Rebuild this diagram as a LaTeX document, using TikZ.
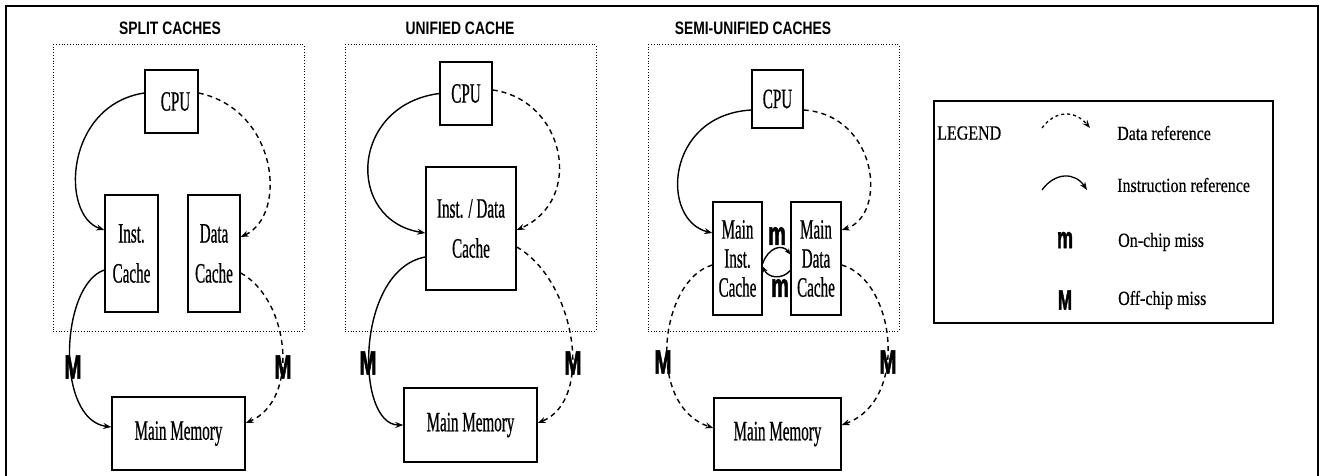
\documentclass[tikz,border=0pt]{standalone}
\usepackage{fontspec}
\usetikzlibrary{arrows.meta}
\setmainfont{Liberation Serif}
\newfontfamily\boxfont[FakeStretch=0.54,FakeBold=0.6]{Liberation Serif}
\newfontfamily\legfont[FakeStretch=0.8,FakeBold=0.4]{Liberation Serif}
\newfontfamily\titlefont[FakeStretch=0.77]{Liberation Sans}
\newfontfamily\missfont[FakeStretch=0.6,FakeBold=1.5]{Liberation Sans}
\tikzset{
  blk/.style={draw, line width=1.4pt, inner sep=0pt, align=center,
    font=\boxfont\fontsize{28}{40}\selectfont},
  blk3/.style={blk, font=\boxfont\fontsize{28}{29}\selectfont},
  region/.style={draw, line width=1pt, dash pattern=on 1pt off 1.8pt, inner sep=0pt},
  ttl/.style={font=\titlefont\bfseries\fontsize{18}{20}\selectfont, inner sep=0pt},
  bigM/.style={font=\missfont\bfseries\fontsize{34}{36}\selectfont, inner sep=0pt},
  smallm/.style={font=\missfont\bfseries\fontsize{33}{36}\selectfont, inner sep=0pt},
  ins/.style={line width=1.4pt, -{Stealth[length=8pt,width=6pt]}},
  dat/.style={line width=1.4pt, dash pattern=on 5pt off 4pt, -{Stealth[length=8pt,width=6pt]}},
  legtext/.style={font=\legfont\fontsize{20}{22}\selectfont, inner sep=0pt, anchor=west},
}
\begin{document}
\begin{tikzpicture}[x=1pt,y=-1pt]
\useasboundingbox (0,0) rectangle (1327,476);
% outer frame
\draw[line width=1.4pt] (6,476) -- (6,6) -- (1318,6) -- (1318,476);

% ---------------- SPLIT CACHES ----------------
\node[ttl] (t1) at (170,28) {SPLIT CACHES};
\node[region, minimum width=251pt, minimum height=286pt] (r1) at (178.5,188) {};
\node[blk, minimum width=53pt, minimum height=63pt] (cpu1) at (171.5,101.5) {\hspace*{8pt}CPU};
\node[blk, minimum width=53pt, minimum height=117pt] (inst1) at (131.5,253.5) {Inst.\\Cache};
\node[blk, minimum width=52pt, minimum height=117pt] (data1) at (214,253.5) {Data\\Cache};
\node[blk, minimum width=133pt, minimum height=73pt] (mm1) at (178.5,433.5) {Main Memory};
\draw[ins] ([yshift=8.5pt]cpu1.west) .. controls (65,105) and (60,215) .. ([yshift=23.5pt]inst1.west);
\draw[dat] ([yshift=8.5pt]cpu1.east) .. controls (278,110) and (288,215) .. ([yshift=16.5pt]data1.east);
\draw[ins] ([yshift=-16.5pt]inst1.west) .. controls (60,285) and (55,420) .. ([yshift=6.5pt]mm1.west);
\draw[dat] ([yshift=-19.5pt]data1.east) .. controls (290,300) and (300,400) .. ([yshift=10.5pt]mm1.east);
\node[bigM] (m1a) at (73,367) {M};
\node[bigM] (m1b) at (283,367) {M};

% ---------------- UNIFIED CACHE ----------------
\node[ttl] (t2) at (460,28) {UNIFIED CACHE};
\node[region, minimum width=251pt, minimum height=286pt] (r2) at (470.5,188) {};
\node[blk, minimum width=52pt, minimum height=63pt] (cpu2) at (466,93.5) {CPU};
\node[blk, minimum width=90pt, minimum height=123pt] (idc2) at (471,228.5) {Inst. / Data\\Cache};
\node[blk, minimum width=133pt, minimum height=74pt] (mm2) at (470.5,425) {Main Memory};
\draw[ins] (cpu2.west) .. controls (350,105) and (345,220) .. ([yshift=-4.5pt]idc2.west);
\draw[dat] ([yshift=3.5pt]cpu2.east) .. controls (565,100) and (585,200) .. ([yshift=-1.5pt]idc2.east);
\draw[ins] ([yshift=-28.5pt]idc2.west) .. controls (355,270) and (355,425) .. (mm2.west);
\draw[dat] ([yshift=-18.5pt]idc2.east) .. controls (575,280) and (595,400) .. ([yshift=2pt]mm2.east);
\node[bigM] (m2a) at (368,363) {M};
\node[bigM] (m2b) at (573,363) {M};

% ---------------- SEMI-UNIFIED CACHES ----------------
\node[ttl] (t3) at (753,28) {SEMI-UNIFIED CACHES};
\node[region, minimum width=251pt, minimum height=286pt] (r3) at (773.5,188) {};
\node[blk, minimum width=51pt, minimum height=58pt] (cpu3) at (777.5,99) {CPU};
\node[blk3, minimum width=49pt, minimum height=113pt] (mic3) at (737.5,258.5) {Main\\Inst.\\Cache};
\node[blk3, minimum width=50pt, minimum height=113pt] (mdc3) at (816,258.5) {Main\\Data\\Cache};
\node[blk, minimum width=127pt, minimum height=72pt] (mm3) at (777.5,434) {Main Memory};
\draw[ins] ([yshift=-11pt]cpu3.west) .. controls (665,115) and (660,220) .. ([yshift=25.5pt]mic3.west);
\draw[dat] ([yshift=-11pt]cpu3.east) .. controls (878,115) and (888,215) .. ([yshift=28.5pt]mdc3.east);
\draw[dat] ([yshift=-6.5pt]mic3.west) .. controls (660,280) and (645,405) .. ([yshift=6pt]mm3.west);
\draw[dat] ([yshift=-6.5pt]mdc3.east) .. controls (895,280) and (910,400) .. ([yshift=9pt]mm3.east);
\draw[line width=1.4pt, -{Stealth[length=6pt,width=5pt]}] ([yshift=-5pt]mic3.east) .. controls (768,248) and (782,243) .. ([yshift=4pt]mdc3.west);
\draw[line width=1.4pt, -{Stealth[length=6pt,width=5pt]}] ([yshift=-12pt]mdc3.west) .. controls (782,280) and (768,278) .. ([yshift=-8pt]mic3.east);
\node[smallm] (sm1) at (777,236) {m};
\node[smallm] (sm2) at (780,288) {m};
\node[bigM] (m3a) at (663,362) {M};
\node[bigM] (m3b) at (888,362) {M};

% ---------------- LEGEND ----------------
\node[draw, line width=1.4pt, minimum width=339pt, minimum height=222pt, inner sep=0pt] (leg) at (1103.5,212) {};
\node[legtext] (legt) at (937,133) {LEGEND};
\coordinate (d1) at (1042,128);
\coordinate (d2) at (1090,128);
\draw[dat, line width=1.3pt, dash pattern=on 3pt off 3pt] (d1) .. controls (1055,110) and (1075,110) .. (d2);
\node[legtext] (ldr) at (1117,133) {Data reference};
\coordinate (i1) at (1042,190);
\coordinate (i2) at (1087,190);
\draw[ins, line width=1.3pt] (i1) .. controls (1055,172) and (1075,172) .. (i2);
\node[legtext] (lir) at (1117,185) {Instruction reference};
\node[smallm, font=\missfont\bfseries\fontsize{30}{32}\selectfont] (lm) at (1065,240) {m};
\node[legtext] (lon) at (1118,242) {On-chip miss};
\node[bigM, font=\missfont\bfseries\fontsize{28}{30}\selectfont] (lM) at (1065,300) {M};
\node[legtext] (loff) at (1118,300) {Off-chip miss};
\end{tikzpicture}
\end{document}
